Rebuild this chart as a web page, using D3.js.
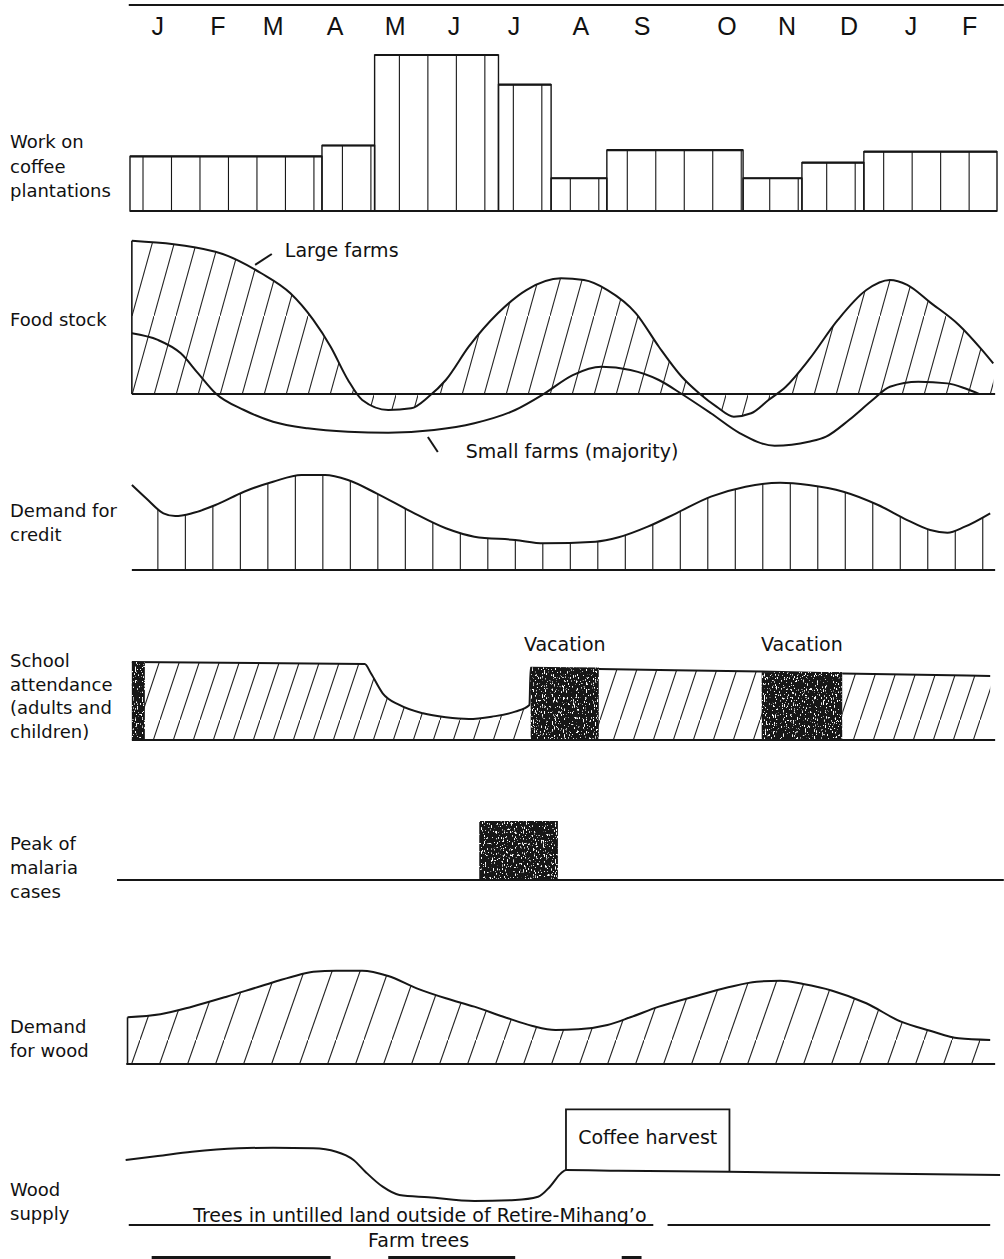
<!DOCTYPE html>
<html><head><meta charset="utf-8">
<script src="https://cdn.jsdelivr.net/npm/d3@7"></script>
<style>
body{margin:0;background:#fff}
svg{display:block}
text{font-family:"DejaVu Sans",Verdana,sans-serif;fill:#111}
</style></head><body>
<svg id="c" width="1004" height="1259"></svg>
<script>
// ---------- DATA (x in months from start of January; values in arbitrary units 0-10) ----------
const months = ["J","F","M","A","M","J","J","A","S","O","N","D","J","F"];
const monthPos = [0.45,1.42,2.31,3.31,4.28,5.23,6.2,7.28,8.27,9.64,10.61,11.61,12.61,13.56];

const panelLabels = [
  ["Work on","coffee","plantations"],
  ["Food stock"],
  ["Demand for","credit"],
  ["School","attendance","(adults and","children)"],
  ["Peak of","malaria","cases"],
  ["Demand","for wood"],
  ["Wood","supply"]
];

// Work on coffee plantations: step levels between breaks
const coffeeBreaks = [0, 3.1, 3.95, 5.95, 6.8, 7.7, 9.9, 10.85, 11.85, 14];
const coffeeLevels = [3.5, 4.2, 10, 8.1, 2.1, 3.9, 2.1, 3.1, 3.8];

// Food stock
const largeFarms = [[0.03,9.95],[1.38,9.24],[2.12,7.84],[2.59,6.54],[2.96,4.81],[3.24,3.07],[3.52,0.91],[3.75,-0.39],[4.17,-1.04],[4.54,-0.93],[4.82,-0.18],[5.10,0.91],[5.47,3.07],[5.94,5.24],[6.40,6.75],[6.96,7.51],[7.33,7.40],[7.71,6.75],[8.17,5.24],[8.54,3.07],[8.91,1.12],[9.19,0.05],[9.47,-0.82],[9.75,-1.47],[10.03,-1.25],[10.31,-0.39],[10.59,0.47],[10.96,2.21],[11.43,4.81],[11.89,6.75],[12.27,7.40],[12.55,7.08],[12.92,5.95],[13.38,4.5],[13.75,2.9],[13.94,1.99]];
const smallFarms = [[0.03,3.94],[0.45,3.51],[0.82,2.64],[1.10,1.34],[1.38,0.05],[1.84,-1.04],[2.31,-1.80],[2.87,-2.23],[3.52,-2.45],[4.17,-2.51],[4.91,-2.34],[5.56,-1.90],[6.22,-1.04],[6.68,0],[7.15,1.23],[7.61,1.77],[8.08,1.56],[8.54,0.91],[8.91,0],[9.38,-1.25],[9.85,-2.55],[10.41,-3.36],[10.96,-3.10],[11.24,-2.77],[11.61,-1.69],[11.99,-0.39],[12.27,0.47],[12.73,0.80],[13.20,0.69],[13.48,0.37],[13.71,0]];

// Demand for credit
const credit = [[0.03,8.95],[0.26,7.55],[0.54,5.97],[0.73,5.68],[1.00,5.97],[1.38,6.84],[1.84,8.24],[2.31,9.29],[2.77,10.0],[3.15,10.0],[3.52,9.47],[3.98,8.07],[4.54,6.14],[5.10,4.39],[5.56,3.51],[6.22,3.16],[6.68,2.81],[7.52,2.98],[7.89,3.44],[8.36,4.56],[8.82,5.97],[9.38,7.72],[9.94,8.77],[10.50,9.19],[10.96,8.95],[11.52,8.24],[12.08,6.84],[12.55,5.26],[12.92,4.21],[13.20,3.93],[13.48,4.56],[13.89,5.97]];

// School attendance
const attendance = [[0.03,10],[3.79,9.74],[3.89,8.55],[4.08,5.99],[4.35,4.49],[4.73,3.42],[5.10,2.91],[5.47,2.69],[5.84,2.99],[6.22,3.63],[6.45,4.49],[6.47,9.27],[7.57,9.10],[10.20,8.78],[11.50,8.53],[13.89,8.21]];
const vacations = [[0.03,0.24],[6.47,7.57],[10.20,11.50]];
const vacationTop = [10, 9.3, 8.7];
const vacationLabels = ["", "Vacation", "Vacation"];

// Peak of malaria cases
const malariaPeak = [[5.64, 6.91]];
const malariaLevel = [10];

// Demand for wood
const woodDemand = [[-0.04,4.97],[0.49,5.29],[1.00,6.10],[1.56,7.16],[2.12,8.30],[2.59,9.22],[2.96,9.82],[3.33,9.93],[3.75,9.93],[4.17,9.36],[4.63,8.05],[5.10,6.99],[5.56,6.10],[6.03,5.03],[6.50,4.04],[6.87,3.62],[7.24,3.69],[7.71,4.15],[8.08,4.97],[8.54,6.10],[9.10,7.16],[9.66,8.16],[10.12,8.76],[10.50,8.86],[10.87,8.51],[11.34,7.80],[11.89,6.46],[12.45,4.50],[12.92,3.54],[13.38,2.73],[13.89,2.55]];

// Wood supply
const woodSupply = [[-0.07,6.5],[0.45,6.9],[1.00,7.33],[1.75,7.67],[2.31,7.73],[2.96,7.67],[3.33,7.33],[3.61,6.5],[3.80,5.33],[4.08,3.83],[4.35,3.0],[4.82,2.77],[5.56,2.4],[6.22,2.5],[6.59,2.83],[6.78,3.83],[6.96,5.17],[7.04,5.5],[7.89,5.43],[9.66,5.33],[11.61,5.17],[14.05,5.0]];
const coffeeHarvest = [7.04, 9.68];
const coffeeHarvestTop = 11.57;
const treeSegments = [[-0.02,8.45],[8.68,13.89]];
const farmTreeSegments = [[0.35,3.24],[4.17,6.22],[7.94,8.26]];

// ---------- LAYOUT ----------
const ink = "#161616";
const x = d3.scaleLinear().domain([0,14]).range([130,997]);
const layout = {
  coffee:{base:211,h:156}, food:{base:394,h:154}, credit:{base:570,h:95},
  school:{base:740,h:78}, malaria:{base:880,h:59}, wood:{base:1064,h:94}, supply:{base:1225,h:100}
};
const yOf = k => d3.scaleLinear().domain([0,10]).range([layout[k].base, layout[k].base - layout[k].h]);
const labelBaselines = [148,326,517,667,850,1033,1196];
const labelLead = [24.5,24,24,23.5,24,24,24];
const noteSize = "19px";

const svg = d3.select("#c");
const defs = svg.append("defs");

function hatch(id, w, h){
  const p = defs.append("pattern").attr("id",id).attr("patternUnits","userSpaceOnUse")
    .attr("width",w).attr("height",h);
  p.append("path").attr("d",`M${-0.1*w},${1.1*h}L${1.1*w},${-0.1*h}`)
    .attr("stroke","#222").attr("stroke-width",1.1).attr("fill","none");
}
hatch("hFood",22,79);
hatch("hSchool",20,60);
hatch("hWood",28,80);

const f = defs.append("filter").attr("id","speck").attr("x",0).attr("y",0).attr("width",1).attr("height",1);
f.append("feTurbulence").attr("type","fractalNoise").attr("baseFrequency","0.9 0.35").attr("numOctaves",2).attr("seed",7).attr("result","n");
f.append("feColorMatrix").attr("in","n").attr("type","matrix")
  .attr("values","0 0 0 0 1  0 0 0 0 1  0 0 0 0 1  12 0 0 0 -7.4").attr("result","s");
f.append("feComposite").attr("in","s").attr("in2","SourceGraphic").attr("operator","atop");

const hline = (g, x0, x1, y, sw=2) => g.append("line").attr("x1",x0).attr("x2",x1).attr("y1",y).attr("y2",y)
  .attr("stroke",ink).attr("stroke-width",sw);

// top rule + months
hline(svg, x(-0.02), x(14.11), 5, 2.2);
svg.append("g").selectAll("text").data(months).join("text")
  .attr("x",(d,i)=>x(monthPos[i])).attr("y",35).attr("text-anchor","middle")
  .style("font-family","'Liberation Sans',Arial,sans-serif").style("font-size","25px").text(d=>d);

// left labels
panelLabels.forEach((lines,i)=>{
  const t = svg.append("text").attr("x",10).attr("y",labelBaselines[i]).style("font-size","18px");
  lines.forEach((s,j)=>t.append("tspan").attr("x",10).attr("y",labelBaselines[i]+j*labelLead[i]).text(s));
});

const line = (y) => d3.line().x(d=>x(d[0])).y(d=>y(d[1])).curve(d3.curveMonotoneX);

// ---- Coffee ----
{
  const y = yOf("coffee"), g = svg.append("g");
  const steps = coffeeLevels.map((v,i)=>({x0:coffeeBreaks[i],x1:coffeeBreaks[i+1],v}));
  const cp = defs.append("clipPath").attr("id","clipCoffee");
  cp.selectAll("rect").data(steps).join("rect")
    .attr("x",d=>x(d.x0)).attr("width",d=>x(d.x1)-x(d.x0)).attr("y",d=>y(d.v)).attr("height",d=>y(0)-y(d.v));
  g.append("g").attr("clip-path","url(#clipCoffee)").selectAll("line").data(d3.range(0.21,14,0.46)).join("line")
    .attr("x1",d=>x(d)).attr("x2",d=>x(d)).attr("y1",y(0)).attr("y2",y(10.5))
    .attr("stroke",ink).attr("stroke-width",1.1);
  g.selectAll("rect").data(steps).join("rect")
    .attr("x",d=>x(d.x0)).attr("width",d=>x(d.x1)-x(d.x0)).attr("y",d=>y(d.v)).attr("height",d=>y(0)-y(d.v))
    .attr("fill","none").attr("stroke",ink).attr("stroke-width",1.4);
  g.selectAll("path.top").data(steps).join("path").attr("class","top")
    .attr("d",d=>`M${x(d.x0)},${y(d.v)}H${x(d.x1)}`).attr("stroke",ink).attr("stroke-width",2.2);
  hline(g, x(0), x(14), y(0), 2.2);
}

// ---- Food stock ----
{
  const y = yOf("food"), g = svg.append("g");
  g.append("path").datum(largeFarms)
    .attr("d", d3.area().x(d=>x(d[0])).y0(y(0)).y1(d=>y(d[1])).curve(d3.curveMonotoneX))
    .attr("fill","url(#hFood)");
  hline(g, x(0.03), x(13.97), y(0), 2.2);
  g.append("line").attr("x1",x(largeFarms[0][0])).attr("x2",x(largeFarms[0][0]))
    .attr("y1",y(0)).attr("y2",y(largeFarms[0][1])).attr("stroke",ink).attr("stroke-width",1.6);
  g.append("path").datum(largeFarms).attr("d",line(y)).attr("fill","none").attr("stroke",ink).attr("stroke-width",2);
  g.append("path").datum(smallFarms).attr("d",line(y)).attr("fill","none").attr("stroke",ink).attr("stroke-width",2);
  g.append("line").attr("x1",x(2.02)).attr("y1",y(8.38)).attr("x2",x(2.29)).attr("y2",y(9.09)).attr("stroke",ink).attr("stroke-width",2);
  g.append("text").attr("x",x(2.5)).attr("y",y(8.9)).style("font-size",noteSize).text("Large farms");
  g.append("line").attr("x1",x(4.81)).attr("y1",y(-2.79)).attr("x2",x(4.97)).attr("y2",y(-3.77)).attr("stroke",ink).attr("stroke-width",2);
  g.append("text").attr("x",x(5.42)).attr("y",y(-4.16)).style("font-size",noteSize).text("Small farms (majority)");
}

// ---- Demand for credit ----
{
  const y = yOf("credit"), g = svg.append("g");
  defs.append("clipPath").attr("id","clipCredit").append("path").datum(credit)
    .attr("d", d3.area().x(d=>x(d[0])).y0(y(0)).y1(d=>y(d[1])).curve(d3.curveMonotoneX));
  g.append("g").attr("clip-path","url(#clipCredit)").selectAll("line").data(d3.range(0.45,13.95,0.444)).join("line")
    .attr("x1",d=>x(d)).attr("x2",d=>x(d)).attr("y1",y(0)).attr("y2",y(11))
    .attr("stroke",ink).attr("stroke-width",1.1);
  hline(g, x(0.03), x(13.97), y(0), 2.2);
  g.append("path").datum(credit).attr("d",line(y)).attr("fill","none").attr("stroke",ink).attr("stroke-width",2);
}

// ---- School attendance ----
{
  const y = yOf("school"), g = svg.append("g");
  g.append("path").datum(attendance)
    .attr("d", d3.area().x(d=>x(d[0])).y0(y(0)).y1(d=>y(d[1])).curve(d3.curveMonotoneX))
    .attr("fill","url(#hSchool)");
  g.append("path").datum(attendance).attr("d",line(y)).attr("fill","none").attr("stroke",ink).attr("stroke-width",2);
  g.selectAll("rect.vac").data(vacations).join("rect").attr("class","vac")
    .attr("x",d=>x(d[0])).attr("width",d=>x(d[1])-x(d[0]))
    .attr("y",(d,i)=>y(vacationTop[i])).attr("height",(d,i)=>y(0)-y(vacationTop[i]))
    .attr("fill",ink).attr("filter","url(#speck)");
  g.selectAll("text.vac").data(vacations).join("text").attr("class","vac")
    .attr("x",d=>x((d[0]+d[1])/2)).attr("y",y(0)-89).attr("text-anchor","middle").style("font-size",noteSize)
    .text((d,i)=>vacationLabels[i]);
  hline(g, x(0.03), x(13.97), y(0), 2.2);
}

// ---- Malaria ----
{
  const y = yOf("malaria"), g = svg.append("g");
  g.selectAll("rect").data(malariaPeak).join("rect")
    .attr("x",d=>x(d[0])).attr("width",d=>x(d[1])-x(d[0]))
    .attr("y",(d,i)=>y(malariaLevel[i])).attr("height",(d,i)=>y(0)-y(malariaLevel[i]))
    .attr("fill",ink).attr("filter","url(#speck)");
  hline(g, x(-0.21), x(14.11), y(0), 2.2);
}

// ---- Demand for wood ----
{
  const y = yOf("wood"), g = svg.append("g");
  g.append("path").datum(woodDemand)
    .attr("d", d3.area().x(d=>x(d[0])).y0(y(0)).y1(d=>y(d[1])).curve(d3.curveMonotoneX))
    .attr("fill","url(#hWood)");
  g.append("line").attr("x1",x(woodDemand[0][0])).attr("x2",x(woodDemand[0][0]))
    .attr("y1",y(0)).attr("y2",y(woodDemand[0][1])).attr("stroke",ink).attr("stroke-width",1.6);
  g.append("path").datum(woodDemand).attr("d",line(y)).attr("fill","none").attr("stroke",ink).attr("stroke-width",2);
  hline(g, x(-0.06), x(13.97), y(0), 2.2);
}

// ---- Wood supply ----
{
  const y = yOf("supply"), g = svg.append("g");
  g.append("path").datum(woodSupply).attr("d",line(y)).attr("fill","none").attr("stroke",ink).attr("stroke-width",2);
  g.append("path")
    .attr("d",`M${x(coffeeHarvest[0])},${y(5.5)}V${y(coffeeHarvestTop)}H${x(coffeeHarvest[1])}V${y(5.33)}`)
    .attr("fill","none").attr("stroke",ink).attr("stroke-width",1.8);
  g.append("text").attr("x",x((coffeeHarvest[0]+coffeeHarvest[1])/2)).attr("y",y(8.1))
    .attr("text-anchor","middle").style("font-size",noteSize).text("Coffee harvest");
  treeSegments.forEach(s=>hline(g, x(s[0]), x(s[1]), y(0), 2));
  g.append("text").attr("x",x(4.68)).attr("y",y(0.33)).attr("text-anchor","middle").style("font-size",noteSize)
    .text("Trees in untilled land outside of Retire-Mihang\u2019o");
  g.append("text").attr("x",x(4.66)).attr("y",y(-2.17)).attr("text-anchor","middle").style("font-size",noteSize)
    .text("Farm trees");
  farmTreeSegments.forEach(s=>hline(g, x(s[0]), x(s[1]), y(-3.25), 3));
}
</script>
</body></html>
